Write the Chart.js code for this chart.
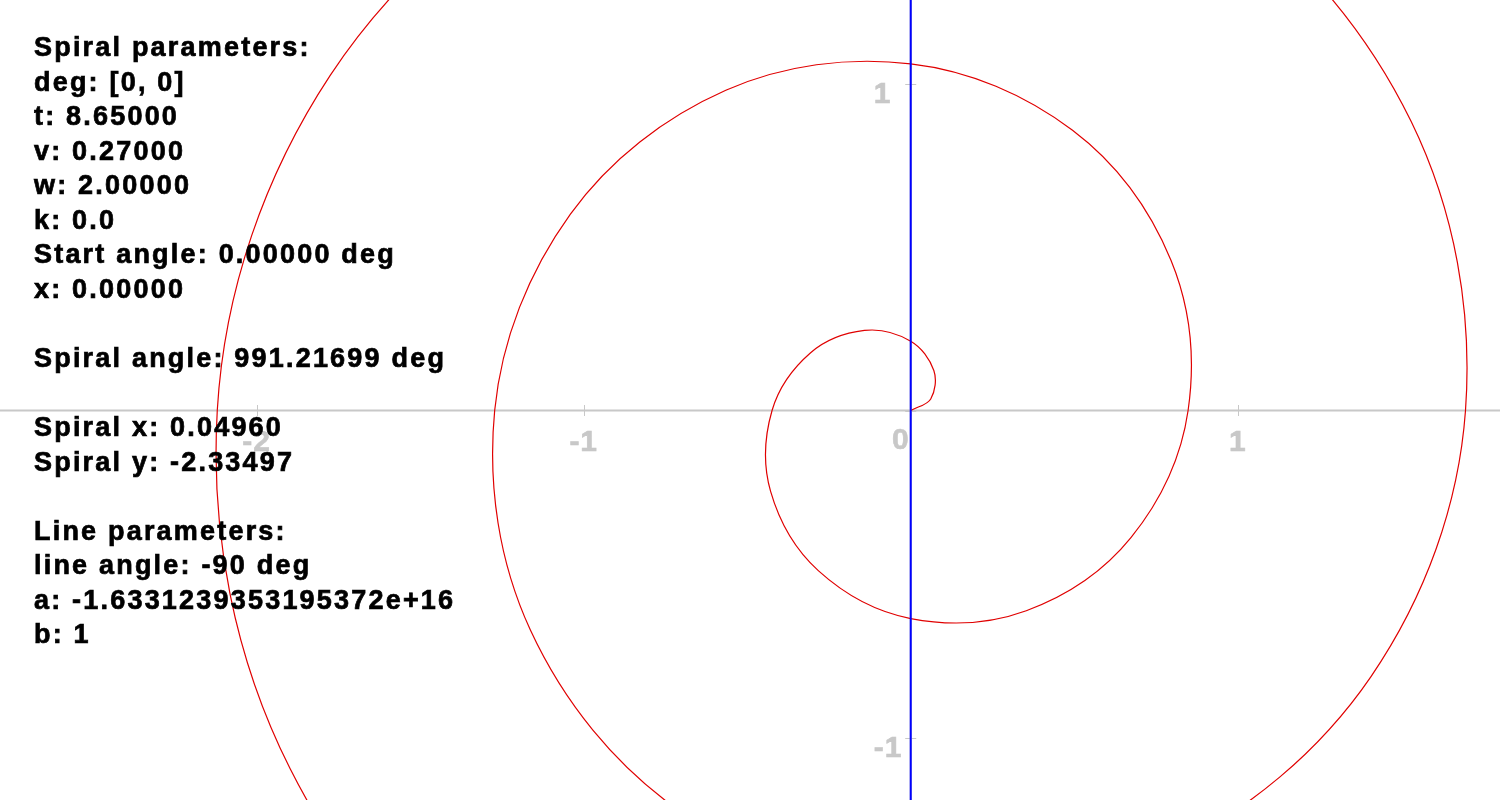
<!DOCTYPE html>
<html>
<head>
<meta charset="utf-8">
<title>Spiral</title>
<script src="https://cdn.jsdelivr.net/npm/chart.js@4.4.1/dist/chart.umd.min.js"></script>
<style>
  html, body { margin: 0; padding: 0; background: #fff; }
  canvas { display: block; }
</style>
</head>
<body>
<canvas id="spiralChart" width="1500" height="800"></canvas>
<script>
// spiral points, one every 30 deg of turn, last one is the end point
const spiralX = [0, 0.0612, 0.0707, 0, -0.1414, -0.3061, -0.4241, -0.4285, -0.2827, 0, 0.3534, 0.6734,
  0.8482, 0.7958, 0.4948, 0, -0.5655, -1.0407, -1.2723, -1.1631, -0.7069, 0, 0.7775, 1.4080,
  1.6965, 1.5304, 0.9189, 0, -0.9896, -1.7752, -2.1206, -1.8977, -1.1310, 0, 0.0496];
const spiralY = [0, 0.0353, 0.1224, 0.2121, 0.2449, 0.1767, 0, -0.2474, -0.4897, -0.6362, -0.6122, -0.3888,
  0, 0.4595, 0.8570, 1.0603, 0.9794, 0.6008, 0, -0.6715, -1.2243, -1.4844, -1.3467, -0.8129,
  0, 0.8836, 1.5916, 1.9085, 1.7140, 1.0249, 0, -1.0956, -1.9589, -2.3326, -2.3350];

// the line (angle -90 deg), vertical through x = 0
const lineX = [0, 0];
const lineY = [-1.4, 1.4];

const xTicks = [-2, -1, 0, 1];
const yTicks = [-1, 0, 1];

const infoLines = [
  'Spiral parameters:',
  'deg: [0, 0]',
  't: 8.65000',
  'v: 0.27000',
  'w: 2.00000',
  'k: 0.0',
  'Start angle: 0.00000 deg',
  'x: 0.00000',
  '',
  'Spiral angle: 991.21699 deg',
  '',
  'Spiral x: 0.04960',
  'Spiral y: -2.33497',
  '',
  'Line parameters:',
  'line angle: -90 deg',
  'a: -1.6331239353195372e+16',
  'b: 1'
];

const toPoints = (xs, ys) => xs.map((v, i) => ({ x: v, y: ys[i] }));

// axes crossing at the origin, drawn from the chart's own scales
const centerAxes = {
  id: 'centerAxes',
  beforeDatasetsDraw(chart) {
    const { ctx, chartArea, scales: { x, y } } = chart;
    const x0 = x.getPixelForValue(0);
    const y0 = y.getPixelForValue(0);
    ctx.save();
    ctx.strokeStyle = '#c8c8c8';
    ctx.lineWidth = 2;
    ctx.beginPath();
    ctx.moveTo(chartArea.left, y0);
    ctx.lineTo(chartArea.right, y0);
    ctx.moveTo(x0, chartArea.top);
    ctx.lineTo(x0, chartArea.bottom);
    ctx.stroke();

    ctx.lineWidth = 1;
    ctx.beginPath();
    xTicks.forEach(v => {
      const px = Math.round(x.getPixelForValue(v)) + 0.5;
      ctx.moveTo(px, y0 - 5.5);
      ctx.lineTo(px, y0 + 5.5);
    });
    yTicks.forEach(v => {
      const py = Math.round(y.getPixelForValue(v)) + 0.5;
      ctx.moveTo(x0 - 5.5, py);
      ctx.lineTo(x0 + 5.5, py);
    });
    ctx.stroke();

    ctx.fillStyle = '#c8c8c8';
    ctx.strokeStyle = '#c8c8c8';
    ctx.lineWidth = 0.6;
    ctx.font = 'bold 30px "Liberation Sans", Arial, sans-serif';
    ctx.letterSpacing = '1px';
    const label = (txt, px, py) => { ctx.fillText(txt, px, py); ctx.strokeText(txt, px, py); };
    xTicks.forEach(v => {
      const px = x.getPixelForValue(v);
      if (v === 0) {
        ctx.textAlign = 'right';
        label('0', px - 1, y0 + 38);
      } else {
        ctx.textAlign = 'center';
        label(String(v), px, y0 + 40);
      }
    });
    ctx.textAlign = 'left';
    yTicks.filter(v => v !== 0).forEach(v => {
      label(String(v), x0 - 37, y.getPixelForValue(v) + 19.5);
    });
    ctx.restore();
  },
  afterDraw(chart) {
    const ctx = chart.ctx;
    ctx.save();
    ctx.fillStyle = '#000';
    ctx.strokeStyle = '#000';
    ctx.lineWidth = 0.7;
    ctx.font = 'bold 27px "Liberation Sans", Arial, sans-serif';
    ctx.letterSpacing = '2.2px';
    ctx.textAlign = 'left';
    infoLines.forEach((line, i) => {
      if (!line) return;
      const py = 56 + i * 34.55;
      ctx.fillText(line, 34, py);
      ctx.strokeText(line, 34, py);
    });
    ctx.restore();
  }
};

new Chart(document.getElementById('spiralChart'), {
  type: 'scatter',
  data: {
    datasets: [
      {
        label: 'line',
        data: toPoints(lineX, lineY),
        showLine: true,
        borderColor: '#0000ff',
        borderWidth: 2,
        pointRadius: 0,
        tension: 0,
        order: 0
      },
      {
        label: 'spiral',
        data: toPoints(spiralX, spiralY),
        showLine: true,
        borderColor: '#e00000',
        borderWidth: 1.2,
        pointRadius: 0,
        tension: 0.35,
        order: 1
      }
    ]
  },
  options: {
    responsive: false,
    animation: false,
    devicePixelRatio: 1,
    events: [],
    layout: { padding: 0 },
    elements: { line: { capBezierPoints: false } },
    plugins: {
      legend: { display: false },
      tooltip: { enabled: false }
    },
    scales: {
      x: { type: 'linear', min: -2.785, max: 1.802, display: false },
      y: { type: 'linear', min: -1.1911, max: 1.2554, display: false }
    }
  },
  plugins: [centerAxes]
});
</script>
</body>
</html>
